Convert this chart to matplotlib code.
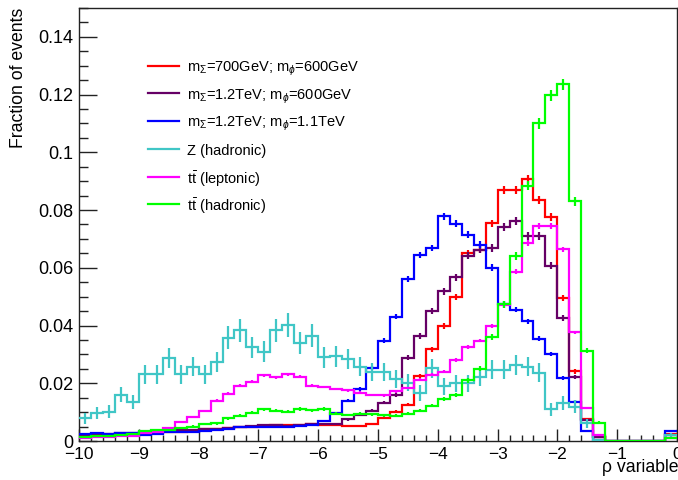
import numpy as np
import matplotlib
matplotlib.use("Agg")
import matplotlib.pyplot as plt
from matplotlib.ticker import MultipleLocator, FuncFormatter

plt.rcParams['font.family'] = ['Liberation Sans', 'DejaVu Sans']
plt.rcParams['mathtext.fontset'] = 'custom'
plt.rcParams['mathtext.rm'] = 'Liberation Sans'
plt.rcParams['mathtext.it'] = 'Liberation Sans:italic'
plt.rcParams['mathtext.bf'] = 'Liberation Sans:bold'
plt.rcParams['mathtext.sf'] = 'Liberation Sans'

# ---- data (fraction of events per 0.2-wide bin, rho from -10 to 0) ----
x_min, x_max, n_bins = -10.0, 0.0, 50

labels = [
    r'm$_{\Sigma}$=700GeV; m$_{\phi}$=600GeV',
    r'm$_{\Sigma}$=1.2TeV; m$_{\phi}$=600GeV',
    r'm$_{\Sigma}$=1.2TeV; m$_{\phi}$=1.1TeV',
    'Z (hadronic)',
    r'$\mathrm{t\bar{t}}$ (leptonic)',
    r'$\mathrm{t\bar{t}}$ (hadronic)',
]
colors = ['#ff0000', '#660066', '#0000ff', '#40c6c6', '#ff00ff', '#00ff00']
err_scale = [0.0047, 0.0050, 0.0045, 0.0210, 0.0035, 0.0053]

sig_700_600 = [0.0020, 0.0022, 0.0022, 0.0024, 0.0024, 0.0027, 0.0027, 0.0030, 0.0032, 0.0036,
               0.0040, 0.0042, 0.0045, 0.0050, 0.0050, 0.0052, 0.0054, 0.0054, 0.0056, 0.0058,
               0.0055, 0.0056, 0.0053, 0.0051, 0.0059, 0.0080, 0.0102, 0.0126, 0.0226, 0.0317,
               0.0398, 0.0500, 0.0650, 0.0663, 0.0754, 0.0868, 0.0868, 0.0906, 0.0834, 0.0776,
               0.0497, 0.0241, 0.0075, 0.0015, 0.0, 0.0, 0.0, 0.0, 0.0, 0.0025]

sig_1200_600 = [0.0022, 0.0023, 0.0023, 0.0027, 0.0028, 0.0030, 0.0032, 0.0035, 0.0038, 0.0038,
                0.0043, 0.0040, 0.0044, 0.0050, 0.0052, 0.0055, 0.0055, 0.0053, 0.0055, 0.0059,
                0.0060, 0.0060, 0.0075, 0.0090, 0.0105, 0.0133, 0.0160, 0.0289, 0.0364, 0.0449,
                0.0518, 0.0567, 0.0642, 0.0663, 0.0669, 0.0741, 0.0763, 0.0711, 0.0711, 0.0607,
                0.0427, 0.0221, 0.0073, 0.0015, 0.0, 0.0, 0.0, 0.0, 0.0, 0.0020]

sig_1200_1100 = [0.0025, 0.0026, 0.0024, 0.0026, 0.0026, 0.0022, 0.0024, 0.0030, 0.0032, 0.0031,
                 0.0036, 0.0038, 0.0040, 0.0049, 0.0050, 0.0049, 0.0050, 0.0048, 0.0052, 0.0055,
                 0.0069, 0.0096, 0.0140, 0.0180, 0.0254, 0.0347, 0.0431, 0.0560, 0.0645, 0.0669,
                 0.0778, 0.0752, 0.0715, 0.0680, 0.0601, 0.0476, 0.0455, 0.0414, 0.0354, 0.0301,
                 0.0218, 0.0136, 0.0035, 0.0005, 0.0, 0.0, 0.0, 0.0, 0.0, 0.0035]

z_hadronic = [0.0079, 0.0096, 0.0102, 0.0160, 0.0136, 0.0231, 0.0231, 0.0287, 0.0231, 0.0258,
              0.0231, 0.0273, 0.0358, 0.0383, 0.0324, 0.0310, 0.0383, 0.0402, 0.0339, 0.0365,
              0.0290, 0.0293, 0.0284, 0.0258, 0.0239, 0.0239, 0.0216, 0.0202, 0.0166, 0.0252,
              0.0189, 0.0200, 0.0200, 0.0223, 0.0246, 0.0246, 0.0264, 0.0258, 0.0237, 0.0110,
              0.0133, 0.0119, 0.0061, 0.0003, 0.0, 0.0, 0.0, 0.0, 0.0, 0.0020]

tt_leptonic = [0.0012, 0.0013, 0.0015, 0.0017, 0.0017, 0.0027, 0.0030, 0.0044, 0.0067, 0.0083,
               0.0104, 0.0140, 0.0164, 0.0192, 0.0206, 0.0228, 0.0220, 0.0231, 0.0223, 0.0191,
               0.0187, 0.0180, 0.0176, 0.0167, 0.0160, 0.0158, 0.0172, 0.0184, 0.0213, 0.0229,
               0.0240, 0.0280, 0.0325, 0.0348, 0.0400, 0.0470, 0.0587, 0.0686, 0.0744, 0.0744,
               0.0664, 0.0376, 0.0113, 0.0021, 0.0, 0.0, 0.0, 0.0, 0.0, 0.0010]

tt_hadronic = [0.0013, 0.0017, 0.0017, 0.0022, 0.0023, 0.0036, 0.0038, 0.0038, 0.0046, 0.0050,
               0.0058, 0.0061, 0.0079, 0.0087, 0.0098, 0.0110, 0.0105, 0.0101, 0.0111, 0.0106,
               0.0111, 0.0094, 0.0090, 0.0094, 0.0093, 0.0089, 0.0088, 0.0095, 0.0105, 0.0122,
               0.0145, 0.0160, 0.0210, 0.0250, 0.0359, 0.0474, 0.0640, 0.0885, 0.1100, 0.1197,
               0.1235, 0.0830, 0.0313, 0.0064, 0.0, 0.0, 0.0, 0.0, 0.0, 0.0010]

series = [sig_700_600, sig_1200_600, sig_1200_1100, z_hadronic, tt_leptonic, tt_hadronic]

x_ticks = [-10, -9, -8, -7, -6, -5, -4, -3, -2, -1, 0]
y_ticks = [0, 0.02, 0.04, 0.06, 0.08, 0.1, 0.12, 0.14]

# ---- figure ----
fig = plt.figure(figsize=(6.78, 4.80), dpi=100)
ax = fig.add_axes([79 / 678, 1 - 441 / 480, 598 / 678, 433 / 480])

edges = np.linspace(x_min, x_max, n_bins + 1)
centers = 0.5 * (edges[:-1] + edges[1:])

for vals, col, k in zip(series, colors, err_scale):
    v = np.asarray(vals)
    ax.stairs(v, edges, baseline=None, color=col, lw=1.6, zorder=3)
    err = k * np.sqrt(v)
    m = v > 0
    ax.errorbar(centers[m], v[m], yerr=err[m], fmt='none', ecolor=col,
                elinewidth=1.6, capsize=0, zorder=3)

ax.set_xlim(x_min, x_max)
ax.set_ylim(0, 0.15)

ax.set_xticks(x_ticks)
ax.set_yticks(y_ticks)
ax.xaxis.set_minor_locator(MultipleLocator(0.2))
ax.yaxis.set_minor_locator(MultipleLocator(0.005))
ax.yaxis.set_major_formatter(FuncFormatter(lambda v, p: '{:g}'.format(round(v, 4))))
ax.xaxis.set_major_formatter(FuncFormatter(lambda v, p: '{:g}'.format(v).replace('-', '\u2212')))

ax.tick_params(axis='both', which='both', direction='in', top=False, right=False,
               color='#222222', width=1.0)
ax.tick_params(axis='y', which='major', length=13, labelsize=13, pad=4)
ax.tick_params(axis='y', which='minor', length=6.5)
ax.tick_params(axis='x', which='major', length=8.5, labelsize=12.5, pad=4)
ax.tick_params(axis='x', which='minor', length=4.3)

for s in ax.spines.values():
    s.set_linewidth(1.0)
    s.set_color('#222222')

fig.text(19 / 678, 1 - 8 / 480, 'Fraction of events', rotation=90,
         ha='center', va='top', fontsize=12.7)
fig.text(678 / 678, 1 - 468 / 480, '\u03c1 variable', ha='right', va='center',
         fontsize=12.7)

# ---- legend (drawn as lines + texts inside the axes) ----
row_y_px = [65.7, 93.3, 120.7, 149.0, 176.7, 204.0]
for lab, col, ypx in zip(labels, colors, row_y_px):
    yf = (441 - ypx) / 433
    ax.plot([(148 - 79) / 598, (179 - 79) / 598], [yf, yf], transform=ax.transAxes,
            color=col, lw=1.6, clip_on=False, zorder=4)
    ax.text((187 - 79) / 598, yf, lab, transform=ax.transAxes, ha='left',
            va='center_baseline', fontsize=10.5, zorder=4)

fig.savefig('out.png', dpi=100)
